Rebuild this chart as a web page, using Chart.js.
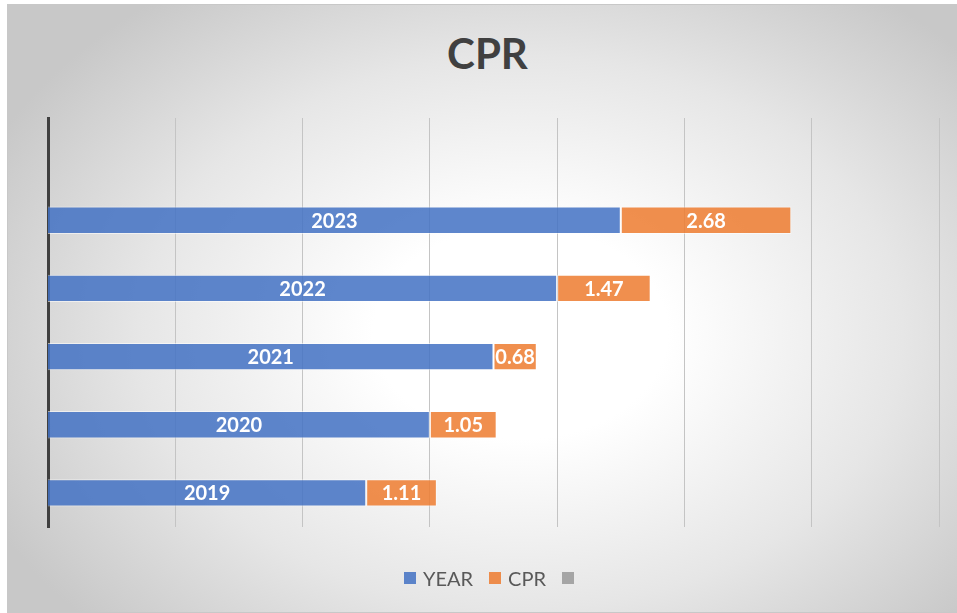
<!DOCTYPE html>
<html>
<head>
<meta charset="utf-8">
<script src="https://cdn.jsdelivr.net/npm/chart.js@4/dist/chart.umd.min.js"></script>
<style>
html,body{margin:0;padding:0;background:#fff;width:957px;height:613px;overflow:hidden;font-family:Lato,"Open Sans",sans-serif;}
#frame{position:absolute;left:7px;top:4px;width:949px;height:607px;border:1px solid #c8c8c8;
  background:radial-gradient(ellipse 62% 70% at 54% 54%,#ffffff 25%,#e6e6e6 65%,#c8c8c8 100%);}
#title{position:absolute;left:0;top:28px;width:975px;text-align:center;font-weight:700;font-size:42px;color:#404040;}
#wrap{position:absolute;left:0;top:0;width:957px;height:613px;}
#legend{position:absolute;top:566px;left:404px;display:flex;align-items:center;font-size:20px;color:#595959;}
#legend span.box{display:inline-block;width:12px;height:12px;margin-right:7px;}
#legend span.item{display:flex;align-items:center;margin-right:16px;}
</style>
</head>
<body>
<div id="frame"></div>
<div id="title">CPR</div>
<div id="wrap"><canvas id="chart" width="957" height="613"></canvas></div>
<div id="legend"></div>
<script>
// Data
const categories=['2019','2020','2021','2022','2023',''];
const yearValues=[2019,2020,2021,2022,2023,null];
const cprValues=[1.11,1.05,0.68,1.47,2.68,null];
const emptyValues=[null,null,null,null,null,null];
const seriesNames=['YEAR','CPR',''];
const seriesColors=['rgba(68,114,196,0.86)','rgba(237,125,49,0.86)','#a5a5a5'];

// Legend (html)
const legendEl=document.getElementById('legend');
seriesNames.forEach((name,i)=>{
  const item=document.createElement('span');
  item.className='item';
  item.innerHTML=`<span class="box" style="background:${seriesColors[i]}"></span>${name}`;
  legendEl.appendChild(item);
});

// Data labels inside bars
const barLabels={
  id:'barLabels',
  afterDatasetsDraw(chart){
    const ctx=chart.ctx;
    ctx.save();
    ctx.font='bold 20px Lato, "Open Sans", sans-serif';
    ctx.fillStyle='#ffffff';
    ctx.textAlign='center';
    ctx.textBaseline='middle';
    [0,1].forEach(di=>{
      const meta=chart.getDatasetMeta(di);
      meta.data.forEach((bar,i)=>{
        const v=chart.data.datasets[di].data[i];
        if(v==null) return;
        const left=Math.max(bar.base,chart.chartArea.left);
        const cx=(left+bar.x)/2;
        const txt=di===0?categories[i]:v.toFixed(2);
        ctx.fillText(txt,cx,bar.y+1);
      });
    });
    ctx.restore();
  }
};

new Chart(document.getElementById('chart'),{
  type:'bar',
  data:{
    labels:categories,
    datasets:[
      {label:seriesNames[0],data:yearValues,backgroundColor:seriesColors[0]},
      {label:seriesNames[1],data:cprValues,backgroundColor:seriesColors[1]},
      {label:seriesNames[2],data:emptyValues,backgroundColor:seriesColors[2]}
    ].map(d=>Object.assign(d,{borderColor:'rgba(255,255,255,0.55)',borderWidth:1,borderSkipped:false,barPercentage:0.4,categoryPercentage:1}))
  },
  options:{
    indexAxis:'y',
    responsive:false,
    animation:false,
    layout:{padding:{left:48,right:18,top:118,bottom:86}},
    plugins:{legend:{display:false},title:{display:false},tooltip:{enabled:false}},
    scales:{
      x:{stacked:true,min:2014,max:2028,
        ticks:{display:false,stepSize:2},
        grid:{color:'#c4c4c4',lineWidth:1,drawTicks:false},
        border:{display:false}},
      y:{stacked:true,reverse:true,
        ticks:{display:false},
        grid:{display:false,drawTicks:false},
        border:{display:true,color:'#404040',width:3}}
    }
  },
  plugins:[barLabels]
});
</script>
</body>
</html>
